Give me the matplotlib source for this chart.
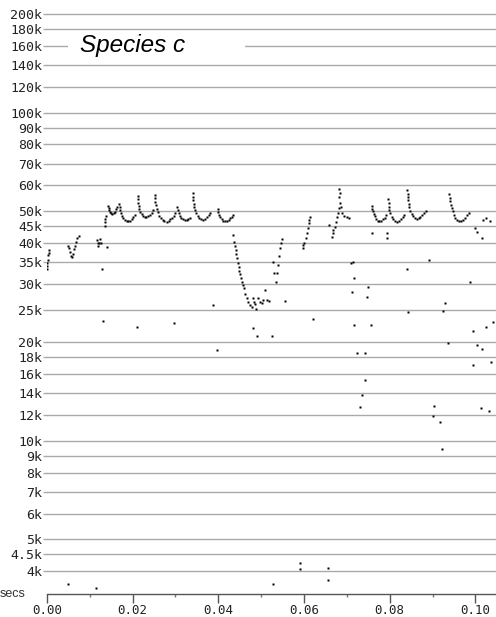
import numpy as np
import matplotlib
matplotlib.use("Agg")
import matplotlib.pyplot as plt
from matplotlib.patches import Rectangle
from matplotlib.ticker import NullLocator

# all times in ms, all frequencies in kHz

# first calls near the start
early_t = [0.4, 0.6, 0.3, 0.2, 0.1, 0.0, 0.1,
           4.9, 5.2, 5.5, 5.75, 5.9, 6.15, 6.4, 6.65, 6.9, 7.15, 7.4,
           11.63, 11.83, 12.06, 12.25, 12.49, 12.72, 13.98, 12.95,
           13.51, 13.58, 13.65, 13.82]
early_f = [38.1, 37.4, 36.9, 35.6, 34.9, 34.1, 33.3,
           39.3, 38.6, 37.6, 36.7, 36.2, 37.2, 38.3, 39.3, 40.4, 41.4, 42.2,
           40.9, 40.0, 39.2, 40.2, 41.3, 40.2, 39.0, 33.5,
           45.1, 46.3, 47.4, 48.4]

# first train of hooked calls
train1_t = [14.2, 14.4, 14.6, 14.8, 15.05, 15.3, 15.6, 15.9, 16.2, 16.45,
            16.85, 17.0, 17.15, 17.3, 17.55, 17.85, 18.2, 18.6, 19.0, 19.4, 19.8, 20.2, 20.6,
            21.25, 21.3, 21.35, 21.45, 21.6, 21.8, 22.1, 22.45, 22.85, 23.25, 23.7, 24.1, 24.5, 24.85,
            25.25, 25.3, 25.35, 25.45, 25.6, 25.85, 26.2, 26.55, 27.0, 27.45, 27.95, 28.4, 28.8, 29.2, 29.6, 29.9,
            30.35, 30.5, 30.75, 31.05, 31.4, 31.8, 32.2, 32.6, 33.0, 33.4,
            34.05, 34.1, 34.15, 34.25, 34.35, 34.55, 34.8, 35.2, 35.6, 36.05, 36.5, 36.95, 37.4, 37.8, 38.15,
            39.9, 40.0, 40.2, 40.5, 40.8, 41.2, 41.6, 42.0, 42.4, 42.75, 43.1, 43.4]
train1_f = [51.9, 51.3, 50.4, 49.7, 49.3, 49.0, 49.3, 49.9, 50.9, 51.7,
            52.6, 51.5, 50.5, 49.6, 48.6, 47.6, 47.0, 46.6, 46.6, 46.9, 47.4, 48.0, 48.7,
            55.9, 54.5, 53.2, 51.9, 50.8, 49.9, 49.1, 48.5, 48.2, 48.2, 48.4, 48.9, 49.6, 50.4,
            56.1, 54.8, 53.5, 52.2, 50.9, 49.7, 48.5, 47.6, 47.0, 46.6, 46.5, 46.8, 47.3, 47.9, 48.6, 49.3,
            51.6, 50.5, 49.6, 48.6, 47.7, 47.3, 47.0, 47.1, 47.4, 47.9,
            57.0, 55.5, 54.2, 52.8, 51.6, 50.4, 49.3, 48.4, 47.7, 47.3, 47.2, 47.5, 48.1, 48.9, 49.6,
            50.8, 49.8, 48.9, 48.0, 47.3, 46.9, 46.8, 46.9, 47.2, 47.6, 48.2, 48.8]

# long downward sweep, the low cluster and the climb back up
sweep_t = [43.55, 43.7, 43.92, 44.08, 44.22, 44.46, 44.62, 44.78, 44.92, 45.08,
           45.32, 45.48, 45.72, 46.02, 46.25, 46.65, 47.02, 47.42, 47.82,
           48.05, 48.35, 48.59, 48.82, 49.36, 49.75, 50.15, 50.53, 50.99, 51.46, 51.92,
           52.72, 53.02, 53.48, 53.72, 54.02, 54.26, 54.42, 54.59, 54.8,
           59.72, 59.86, 60.09, 60.42, 60.65, 60.89, 61.12, 61.26, 61.3,
           65.93, 66.49, 66.72, 66.86, 67.26, 67.49, 67.8, 68.03, 68.26, 68.42,
           68.26, 68.26, 68.3, 68.59, 68.96, 69.36, 69.99, 70.52]
sweep_f = [42.4, 40.4, 39.2, 38.1, 37.1, 36.0, 34.7, 33.8, 33.0, 32.2,
           31.4, 30.5, 29.8, 29.2, 28.1, 27.2, 26.5, 25.9, 25.6,
           27.2, 26.5, 26.2, 25.2, 27.2, 26.5, 26.3, 26.9, 28.9, 26.9, 26.7,
           35.1, 32.4, 30.5, 32.4, 34.3, 36.6, 38.6, 40.0, 41.2,
           38.6, 39.5, 40.1, 41.4, 42.9, 44.4, 46.0, 47.1, 48.0,
           45.5, 41.9, 42.9, 43.9, 44.9, 46.5, 48.2, 49.4, 51.1, 52.9,
           55.5, 58.4, 57.0, 51.7, 49.4, 48.4, 48.0, 47.9]

# second train of hooked calls
train2_t = [75.82, 75.94, 76.08, 76.29, 76.55, 76.82, 77.17, 77.57, 77.99, 78.41, 78.81, 79.16,
            79.7, 79.72, 79.76, 79.9, 80.13, 80.44, 80.83, 81.26, 81.73, 82.2, 82.62, 83.01, 83.36,
            84.13, 84.17, 84.24, 84.34, 84.45, 84.59, 84.8, 85.1, 85.45, 85.87, 86.32, 86.76, 87.18, 87.6, 88.03, 88.45,
            93.93, 94.03, 94.15, 94.29, 94.47, 94.68, 94.96, 95.31, 95.73, 96.2, 96.66, 97.13, 97.6, 98.06, 98.52,
            99.93, 100.47, 101.49, 101.87, 102.4, 103.43]
train2_f = [51.9, 51.0, 50.0, 49.1, 48.3, 47.5, 46.9, 46.6, 46.8, 47.3, 47.9, 48.7,
            54.4, 53.0, 51.7, 50.5, 49.3, 48.2, 47.3, 46.7, 46.5, 46.9, 47.4, 48.1, 48.9,
            58.1, 56.7, 55.3, 54.1, 52.7, 51.5, 50.2, 49.1, 48.3, 47.7, 47.5, 47.6, 48.0, 48.7, 49.5, 50.2,
            56.5, 55.1, 53.8, 52.5, 51.2, 50.0, 48.9, 47.9, 47.2, 46.8, 46.9, 47.2, 47.9, 48.8, 49.6,
            44.6, 43.4, 41.4, 47.1, 47.6, 46.9]

# loose single points
loose_t = [13.19, 20.98, 29.75, 38.86, 39.65, 48.09, 49.12, 52.48, 55.52, 62.05,
           70.96, 71.43, 71.57, 71.2, 71.76, 72.32, 74.26, 74.33, 73.56, 73.09,
           75.03, 74.8, 75.59, 75.82, 79.32, 79.32,
           84.13, 84.36, 89.17, 92.92, 92.53, 93.69, 90.36, 90.2, 91.76, 92.22,
           98.76, 99.39, 100.47, 101.49, 102.48, 104.05, 99.53, 103.57, 101.26, 103.27,
           5.02, 11.48, 52.72, 59.09, 59.09, 65.69, 65.69]
loose_f = [23.1, 22.2, 22.8, 25.9, 18.9, 22.0, 20.8, 20.8, 26.7, 23.5,
           34.9, 35.1, 31.3, 28.5, 22.6, 18.5, 18.5, 15.3, 13.8, 12.7,
           29.5, 27.4, 22.5, 43.0, 43.0, 41.4,
           33.4, 24.6, 35.6, 26.3, 24.9, 19.9, 12.8, 11.9, 11.4, 9.45,
           30.4, 21.6, 19.6, 19.0, 22.2, 23.0, 17.0, 17.4, 12.6, 12.3,
           3.65, 3.55, 3.67, 4.23, 4.05, 4.08, 3.76]

ytick_vals = [200, 180, 160, 140, 120, 100, 90, 80, 70, 60, 50, 45, 40, 35, 30,
              25, 20, 18, 16, 14, 12, 10, 9, 8, 7, 6, 5, 4.5, 4]
ytick_labels = ['200k', '180k', '160k', '140k', '120k', '100k', '90k', '80k', '70k',
                '60k', '50k', '45k', '40k', '35k', '30k', '25k', '20k', '18k', '16k',
                '14k', '12k', '10k', '9k', '8k', '7k', '6k', '5k', '4.5k', '4k']
xtick_vals = [0.00, 0.02, 0.04, 0.06, 0.08, 0.10]
xtick_labels = ['0.00', '0.02', '0.04', '0.06', '0.08', '0.10']
xminor_vals = [0.01, 0.03, 0.05, 0.07, 0.09]

fig = plt.figure(figsize=(4.96, 6.17), dpi=100)
ax = fig.add_axes([46.8/496, 23/617, 449.2/496, 594/617])

groups = [(early_t, early_f), (train1_t, train1_f), (sweep_t, sweep_f),
          (train2_t, train2_f), (loose_t, loose_f)]
for t, f in groups:
    ax.plot(np.array(t)/1000.0, f, 's', ms=1.6, color='black', mec='none', zorder=3)

ax.set_yscale('log')
ax.set_ylim(3.41, 220.6)
ax.set_xlim(0, 0.1048)

ax.set_yticks(ytick_vals)
ax.set_yticklabels(ytick_labels)
ax.yaxis.set_minor_locator(NullLocator())
ax.set_xticks(xtick_vals)
ax.set_xticklabels(xtick_labels)
ax.set_xticks(xminor_vals, minor=True)

ax.set_axisbelow(True)
ax.grid(axis='y', color='#aaaaaa', lw=1.0)
ax.grid(axis='x', visible=False)

for s in ['top', 'right', 'left']:
    ax.spines[s].set_visible(False)
ax.spines['bottom'].set_color('#555555')
ax.spines['bottom'].set_linewidth(1.0)

ax.tick_params(axis='y', which='major', length=3, width=1.0, color='#aaaaaa', pad=0.5,
               labelsize=9.5, labelcolor='#222222')
ax.tick_params(axis='x', which='major', length=6.5, width=1.0, color='#555555', pad=0.5,
               labelsize=9, labelcolor='#222222')
ax.tick_params(axis='x', which='minor', length=2.5, width=1.0, color='#777777')
for lab in ax.get_yticklabels() + ax.get_xticklabels():
    lab.set_family('DejaVu Sans Mono')

# white box behind the title
ax.add_patch(Rectangle((0.047, 0.897), 0.394, 0.05, transform=ax.transAxes,
                       facecolor='white', edgecolor='none', zorder=2))
ax.text(0.074, 0.9226, 'Species c', transform=ax.transAxes, ha='left', va='center',
        fontsize=17.5, fontstyle='italic', family='Liberation Sans', color='black', zorder=4)

fig.text(0.0, 1 - 594/617, 'secs', ha='left', va='center', fontsize=9,
         family='Liberation Sans', color='#333333')

fig.savefig('out.png', dpi=100)
